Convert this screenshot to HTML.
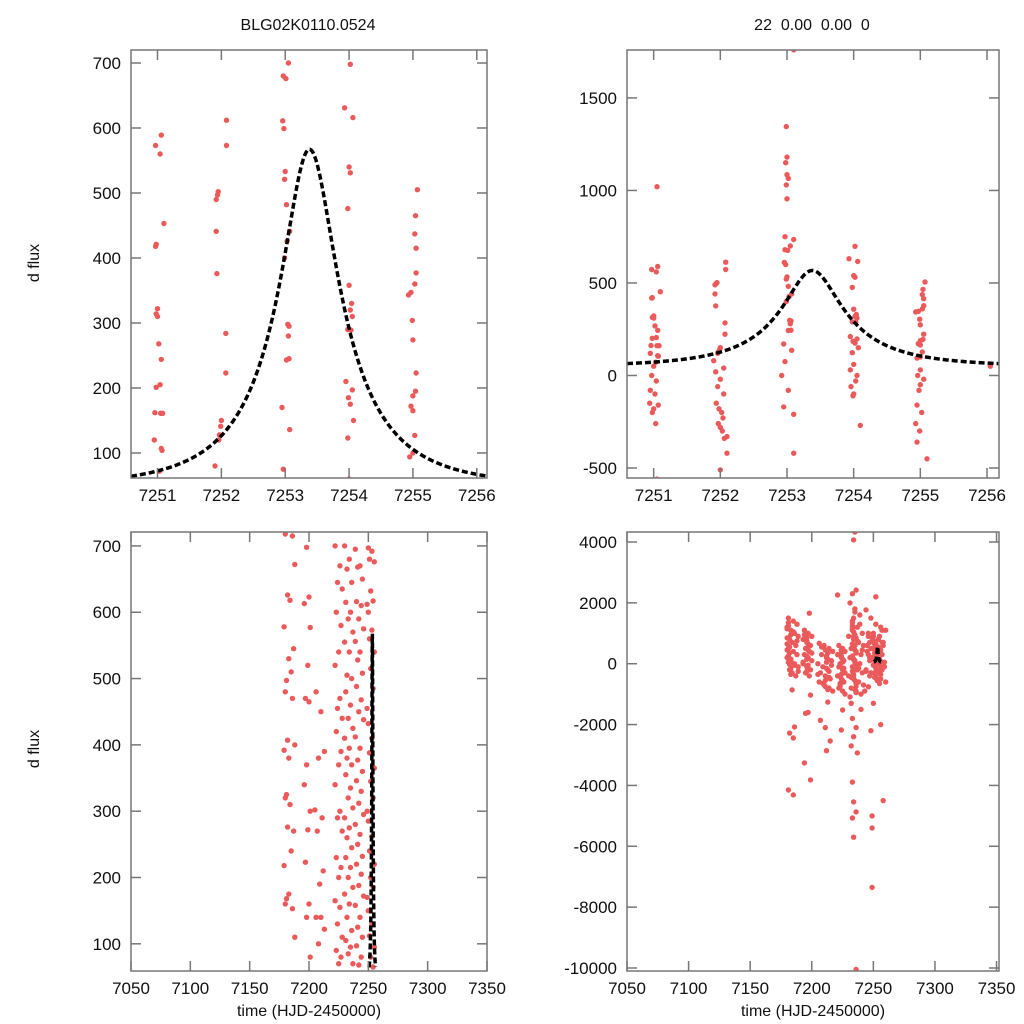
<!DOCTYPE html>
<html><head><meta charset="utf-8"><style>
html,body{margin:0;padding:0;background:#fff;}
svg{display:block;font-family:"Liberation Sans",sans-serif;}
</style></head><body>
<svg id="fig" width="1024" height="1024" viewBox="0 0 1024 1024" xmlns="http://www.w3.org/2000/svg">
<rect width="1024" height="1024" fill="#fff"/>
</svg>
<script>
// model parameters: t0, tE, u0, fs, fb
const modelParams = [7253.38, 1.5, 0.3, 212, -163];

// zoomed event season (top panels)
const topT = [7250.97,7251.06,7251.04,7251.1,7250.98,7250.97,7251.0,7250.98,7251.0,7251.02,7251.06,7251.04,7250.98,7250.96,7251.05,7251.08,7251.06,7251.07,7251.03,
7251.05,7250.95,7251.0,7250.97,7251.04,7250.95,7251.02,7250.94,7251.07,7251.0,7250.98,7251.03,7251.05,
7252.08,7252.08,7251.95,7251.94,7251.92,7251.92,7251.93,7252.07,7252.07,7252.0,7251.99,7251.97,7251.96,
7251.93,7252.0,7251.96,7252.05,7251.94,7251.98,7252.02,7252.04,7251.97,7252.0,7252.03,7252.06,7252.1,7252.0,7252.1,7251.9,7252.05,
7252.97,7253.01,7252.96,7252.98,7253.0,7252.99,7253.02,7253.07,7253.03,7252.99,7253.04,7253.06,7253.05,7253.06,7253.02,7252.95,7253.07,7252.97,
7253.1,7252.99,7253.0,7252.98,7253.0,7253.02,7252.99,7253.0,7252.97,7253.1,7253.05,7252.95,7253.1,7253.1,7253.02,7252.92,
7254.02,7253.93,7254.06,7254.0,7254.02,7253.98,7254.0,7254.04,7254.02,7254.05,7253.98,7254.03,7253.95,7254.05,7253.99,7254.02,7254.07,7253.98,
7253.95,7254.0,7254.03,7253.96,7254.0,7253.99,7254.1,7254.05,
7255.07,7255.04,7255.03,7255.05,7255.05,7255.03,7254.97,7254.93,7254.99,7255.0,7255.05,7255.04,7255.0,7254.97,7255.0,7255.03,7255.0,7254.95,
7255.0,7254.96,7255.05,7255.0,7254.98,7254.95,7255.02,7254.93,7254.99,7254.95,7255.1,7256.05];
const topV = [573,589,560,453,421,418,322,314,310,268,244,205,201,162,161,161,107,104,72,
1020,120,50,0,-30,-80,-100,-150,-160,-180,-200,-260,-560,
612,573,502,497,490,441,376,284,223,150,141,128,120,
20,-20,-60,-100,-150,-180,-200,-230,-260,-280,-300,-340,-420,-510,-330,80,40,
680,676,611,599,533,521,482,441,426,400,298,295,280,245,243,170,136,75,
1760,1345,1180,1150,1085,1065,1030,955,750,735,700,-170,-210,-420,-80,0,
698,631,616,540,531,476,358,330,320,310,290,289,210,197,185,175,150,123,
30,60,-30,-60,-100,-110,-270,0,
505,465,437,415,377,360,347,343,304,274,223,195,188,172,165,127,100,94,
30,0,-20,-50,-80,-160,-200,-260,-300,-360,-450,50];

// full season, clipped view (bottom-left)
const blT = [7180,7182,7179,7183,7181,7180,7182,7179,7183,7181,7180,7182,7179,7183,7181,7180,
7186,7188,7184,7187,7185,7186,7188,7184,7187,7185,7186,7188,
7198,7200,7196,7201,7199,7197,7200,7198,7196,7201,7199,7197,7200,7198,7201,
7206,7210,7213,7208,7205,7211,7207,7212,7209,7206,7210,7213,7208,
7222,7226,7224,7228,7223,7227,7225,7222,7226,7224,7228,7223,7227,7225,7222,7226,7224,7228,7223,7227,7225,7222,7226,7224,7228,7223,7227,7225,
7230,7234,7232,7236,7231,7235,7233,7237,7230,7234,7232,7236,7231,7235,7233,7237,7230,7234,7232,7236,7231,7235,7233,7237,7230,7234,7232,7236,7231,7235,7233,7237,7230,7234,7232,7236,7231,7235,7233,7237,
7239,7243,7241,7245,7240,7244,7242,7246,7239,7243,7241,7245,7240,7244,7242,7246,7239,7243,7241,7245,7240,7244,7242,7246,7239,7243,7241,7245,7240,7244,7242,7246,7239,7243,7241,7245,7240,7244,7242,
7250,7253,7251,7255,7252,7254,7249,7250,7253,7251,7255,7252,7254,7249,7250,7253,7251,7255,7252,7254,7249,7250,7253,7251,7255,7252,7254,7249,7250,7253,7251,7255,7252,7254];
const blV = [718,626,578,530,497,480,407,392,380,325,320,276,218,175,168,160,
715,672,618,545,510,470,400,310,270,240,153,110,
698,623,613,577,520,470,465,370,340,300,272,223,160,140,80,
480,450,390,380,302,290,270,210,190,140,140,122,100,
700,670,645,635,600,580,540,520,470,455,440,420,390,370,340,300,290,270,230,215,200,165,155,130,110,90,80,70,
700,680,665,645,615,600,590,570,555,540,505,500,480,460,440,425,410,395,380,370,355,335,320,305,290,275,260,245,230,215,200,185,175,160,140,120,105,95,85,70,
695,670,668,650,616,610,590,575,556,540,528,508,488,468,450,438,412,395,377,360,346,330,312,295,280,265,250,232,220,205,188,172,158,140,125,110,97,80,68,
697,692,680,676,632,617,612,600,573,560,540,515,485,455,432,410,388,365,345,320,300,285,262,240,220,200,185,170,150,130,112,95,80,65];

// full season, full range (bottom-right)
const brT = [7181,7185,7188,7180,7183,7186,7189,7182,7184,7187,7181,7185,7188,7180,7183,7186,7189,7182,7184,7187,7181,7185,7188,7180,7183,7186,7189,7184,7186,7182,7185,7181,7185,
7181,7183,7180,7182,7181,7183,7180,7182,7181,7183,7180,7182,
7194,7197,7200,7193,7196,7199,7195,7198,7194,7197,7200,7193,7196,7199,7195,7198,7194,7197,7200,7193,7196,7198,7199,7195,7197,7194,7199,
7196,7197,7196,7197,7196,7197,7196,7197,
7206,7210,7214,7217,7208,7212,7216,7205,7209,7213,7207,7211,7215,7206,7210,7214,7217,7208,7212,7216,7205,7209,7213,7207,7211,7215,7212,
7211,7213,7212,7214,7211,7213,7212,7214,7211,7213,
7222,7225,7227,7221,7224,7226,7223,7222,7225,7227,7221,7224,7226,7223,7222,7225,7227,7224,7226,7223,7221,7225,7224,
7224,7225,7223,7224,7225,7223,7224,7225,
7231,7235,7239,7233,7237,7241,7230,7234,7238,7242,7232,7236,7240,7231,7235,7239,7233,7237,7241,7230,7234,7238,7242,7232,7236,7240,7231,7235,7239,7233,7237,7241,7234,7238,7232,7236,7236,7233,7235,7234,7240,7233,7236,7234,7232,7237,7233,7234,7236,7233,7234,7236,7232,7234,
7233,7234,7235,7236,7233,7234,7235,7236,7233,7234,7235,7236,7233,7234,7235,7236,7233,7234,7235,7236,7233,7234,7235,7236,
7244,7248,7252,7256,7260,7246,7250,7254,7258,7245,7249,7253,7257,7247,7251,7255,7259,7244,7248,7252,7256,7260,7246,7250,7254,7258,7245,7249,7253,7257,7247,7251,7255,7259,7244,7252,7243,7250,7256,7248,7258,7249,7249,7249,7249,
7250,7252,7254,7256,7251,7253,7255,7257,7250,7252,7254,7256,7251,7253,7255,7257,7250,7252,7254,7256,7251,7253,7255,7257,7246,7247,7248,7246,7247,7248];
const brV = [1500,1400,1300,1200,1100,1000,900,800,700,600,500,400,300,200,100,0,-100,-200,-300,-400,1350,1050,750,450,150,-50,-250,-860,-2080,-2280,-2440,-4150,-4310,
1250,950,650,350,50,-150,850,550,250,-350,1150,-20,
1100,1000,900,800,700,600,500,400,300,200,100,0,-100,-200,-300,-400,950,650,350,50,-250,1660,-1030,-1630,-1600,-3260,-3820,
850,550,250,-50,750,450,150,-150,
670,600,500,400,300,200,100,0,-100,-200,-300,-400,-500,-600,-700,-800,-900,550,250,-50,-350,-650,-1260,-1860,-2100,-2540,-2860,
450,150,-150,-450,-750,350,50,-250,-550,-850,
600,500,400,300,200,100,0,-100,-200,-300,-400,-500,-600,-700,-800,-900,-1000,350,-150,-650,2260,-1520,-2180,
450,150,-50,-350,-550,-750,250,50,
2000,1800,1600,1400,1200,1000,900,800,700,600,500,400,300,200,100,0,-100,-200,-300,-400,-500,-600,-700,-800,-900,-1000,-1090,1700,1300,1100,750,450,150,-150,-450,-750,2420,2300,4330,4070,-1500,-1800,-2100,-2400,-2700,-2930,-3890,-4540,-4870,-5070,-5700,-10050,-1300,1500,
1150,1050,950,850,650,550,450,350,250,150,50,-50,-250,-350,-550,-650,1250,900,-850,-950,1350,-400,600,-200,
1770,1500,1300,1200,1100,1000,900,800,700,600,500,400,300,200,100,0,-100,-200,-300,-400,-500,-600,-760,1000,800,600,400,200,0,-200,-400,650,350,50,-250,2200,-900,-1300,-2000,-2200,-4500,-5000,-5400,-7350,
850,750,650,550,450,350,250,150,50,-50,-150,-250,-350,-450,-550,-650,700,500,300,100,-100,-300,-500,900,1100,900,700,500,300,100];

const topTicksX = [7251,7252,7253,7254,7255,7256];
const tlTicksY = [100,200,300,400,500,600,700];
const trTicksY = [-500,0,500,1000,1500];
const botTicksX = [7050,7100,7150,7200,7250,7300,7350];
const blTicksY = [100,200,300,400,500,600,700];
const brTicksY = [-10000,-8000,-6000,-4000,-2000,0,2000,4000];

const NS = "http://www.w3.org/2000/svg";
const svg = document.getElementById('fig');
function mk(tag, attrs, parent){const e=document.createElementNS(NS,tag);for(const k in attrs)e.setAttribute(k,attrs[k]);(parent||svg).appendChild(e);return e;}
function lin(d0,d1,r0,r1){return v=>r0+(v-d0)*(r1-r0)/(d1-d0);}
function magnification(t){const [t0,tE,u0]=modelParams;const tau=(t-t0)/tE;const u=Math.sqrt(u0*u0+tau*tau);return (u*u+2)/(u*Math.sqrt(u*u+4));}
function model(t){return modelParams[4]+modelParams[3]*magnification(t);}

function panel(id,box,xd,yd,xticks,yticks,T,V,modelRange,xlabel){
  const [L,Tp,R,B]=box;
  const sx=lin(xd[0],xd[1],L,R), sy=lin(yd[0],yd[1],B,Tp);
  const g=mk('g',{});
  
  
  const cp=mk('clipPath',{id:'clip-'+id},g);
  mk('rect',{x:L,y:Tp,width:R-L,height:B-Tp},cp);
  const pts=mk('g',{'clip-path':'url(#clip-'+id+')'},g);
  
  
  for(let i=0;i<T.length;i++){
    const c=mk('circle',{cx:sx(T[i]).toFixed(1),cy:sy(V[i]).toFixed(1),r:2.7,fill:'#ea5a5a'},pts);
    
    
  }
  let d='';
  const N=400;
  for(let i=0;i<=N;i++){const t=modelRange[0]+(modelRange[1]-modelRange[0])*i/N;d+=(i?'L':'M')+sx(t).toFixed(2)+','+sy(model(t)).toFixed(2);}
  const mc=mk('path',{d:d,fill:'none',stroke:'#000','stroke-width':3.5,'stroke-dasharray':'6,3','clip-path':'url(#clip-'+id+')'},g);
  
  
  const ax=mk('g',{stroke:'#777','stroke-width':1.5,fill:'none'},g);
  
  
  mk('rect',{x:L,y:Tp,width:R-L,height:B-Tp},ax);
  const lab=mk('g',{'font-size':17,fill:'#111'},g);
  xticks.forEach(v=>{const x=sx(v);
    mk('line',{x1:x,y1:B,x2:x,y2:B-10},ax);mk('line',{x1:x,y1:Tp,x2:x,y2:Tp+10},ax);
    const t=mk('text',{x:x,y:B+23,'text-anchor':'middle'},lab);t.textContent=v;
    
    });
  yticks.forEach(v=>{const y=sy(v);
    mk('line',{x1:L,y1:y,x2:L+10,y2:y},ax);mk('line',{x1:R,y1:y,x2:R-10,y2:y},ax);
    const t=mk('text',{x:L-10,y:y+6,'text-anchor':'end'},lab);t.textContent=v;
    
    });
  if(xlabel){const t=mk('text',{x:(L+R)/2,y:B+45,'text-anchor':'middle','font-size':16},lab);t.textContent=xlabel;
    
    }
}

panel('top-left-panel',[131,50,487,478],[7250.585,7256.16],[61.5,720],topTicksX,tlTicksY,topT,topV,[7250.585,7256.16],null);
panel('top-right-panel',[627,50,999,478],[7250.6,7256.18],[-554,1759],topTicksX,trTicksY,topT,topV,[7250.6,7256.18],null);
panel('bottom-left-panel',[131,532,487,971],[7050,7350],[59,721],botTicksX,blTicksY,blT,blV,[7250.6,7256.1],'time (HJD-2450000)');
panel('bottom-right-panel',[627,532,999,971],[7050,7352],[-10099,4329],botTicksX,brTicksY,brT,brV,[7250.6,7256.1],'time (HJD-2450000)');

function txt(name,attrs,s){const t=mk('text',attrs);t.textContent=s;
  
  }
txt('left-title',{x:308,y:30,'text-anchor':'middle','font-size':16,fill:'#111'},'BLG02K0110.0524');
txt('right-title',{x:812,y:30,'text-anchor':'middle','font-size':16,fill:'#111',style:'white-space:pre'},'22  0.00  0.00  0');
txt('top-y-axis-title',{x:0,y:0,transform:'translate(39,263) rotate(-90)','text-anchor':'middle','font-size':16,fill:'#111'},'d flux');
txt('bottom-y-axis-title',{x:0,y:0,transform:'translate(39,749) rotate(-90)','text-anchor':'middle','font-size':16,fill:'#111'},'d flux');
</script>
</body></html>
